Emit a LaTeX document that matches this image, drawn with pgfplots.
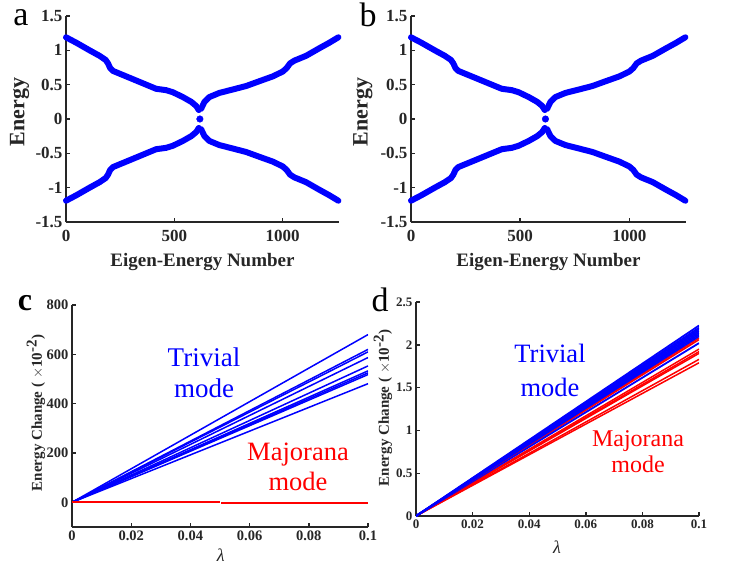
\documentclass[border=0pt]{standalone}
\usepackage{pgfplots}
\pgfplotsset{compat=1.18}
\usepackage{fontspec}
\setmainfont{Liberation Serif}
\definecolor{axgray}{RGB}{38,38,38}
\pgfplotsset{
  mystyle/.style={
    scale only axis,
    anchor=south west,
    axis x line*=bottom, axis y line*=left,
    axis line style={line width=2.2pt, color=axgray},
    tick align=inside,
    major tick style={line width=1.4pt, color=axgray},
    major tick length=4pt,
    ticklabel style={color=axgray},
    label style={color=axgray},
  },
  bandstyle/.style={
    mystyle, clip=false,
    xmin=0, xmax=1260, ymin=-1.5, ymax=1.5,
    xtick={0,500,1000}, xticklabels={0,500,1000},
    ytick={-1.5,-1,-0.5,0,0.5,1,1.5},
    yticklabels={-1.5,-1,-0.5,0,0.5,1,1.5},
    ticklabel style={font=\bfseries\fontsize{17}{17}\selectfont},
    xticklabel style={yshift=-5pt},
    xlabel={Eigen-Energy Number},
    ylabel={Energy},
    xlabel style={font=\bfseries\fontsize{19}{20}\selectfont},
    ylabel style={font=\bfseries\fontsize{22}{22}\selectfont},
    xlabel style={at={(axis description cs:0.5,-0.194)}, anchor=center},
    ylabel style={at={(axis description cs:-0.17,0.534)}, anchor=center},
  },
  lamstyle/.style={
    mystyle,
    xmin=0, xmax=0.1,
    xtick={0,0.02,0.04,0.06,0.08,0.1},
    xticklabels={0,0.02,0.04,0.06,0.08,0.1},
    xlabel={\itshape λ},
    ylabel={Energy Change ( $\times$10$^{\textbf{-2}}$)},
    xlabel style={font=\fontsize{18}{18}\selectfont},
    ylabel style={font=\bfseries\fontsize{15}{16}\selectfont},
  },
}
\pgfplotstableread{
n E
0 1.19
48 1.11
109 1.00
155 0.92
183 0.86
194 0.81
204 0.74
217 0.70
263 0.64
309 0.58
370 0.50
416 0.44
462 0.42
493 0.39
539 0.32
578 0.25
601 0.19
613 0.13
}\upleft
\pgfplotstableread{
n E
624 0.15
639 0.25
662 0.32
708 0.38
770 0.43
831 0.48
892 0.55
954 0.62
1000 0.69
1018 0.74
1034 0.81
1054 0.85
1108 0.92
1169 1.03
1215 1.11
1257 1.19
}\upright
\pgfplotstableread{
n E
0 -1.19
48 -1.11
109 -1.00
155 -0.92
183 -0.86
194 -0.81
204 -0.74
217 -0.70
263 -0.64
309 -0.58
370 -0.50
416 -0.44
462 -0.42
493 -0.39
539 -0.32
578 -0.25
601 -0.19
613 -0.13
}\lowleft
\pgfplotstableread{
n E
624 -0.15
639 -0.25
662 -0.32
708 -0.38
770 -0.43
831 -0.48
892 -0.55
954 -0.62
1000 -0.69
1018 -0.74
1034 -0.81
1054 -0.85
1108 -0.92
1169 -1.03
1215 -1.11
1257 -1.19
}\lowright
\begin{document}
\begin{tikzpicture}
\useasboundingbox (0pt,0pt) rectangle (730pt,566pt);
% ---------- a ----------
\begin{axis}[bandstyle, at={(66pt,344pt)}, width=273pt, height=206pt]
\addplot[blue, line width=6pt, line cap=round, line join=round] table[x=n,y=E] {\upleft};
\addplot[blue, line width=6pt, line cap=round, line join=round] table[x=n,y=E] {\upright};
\addplot[blue, line width=6pt, line cap=round, line join=round] table[x=n,y=E] {\lowleft};
\addplot[blue, line width=6pt, line cap=round, line join=round] table[x=n,y=E] {\lowright};
\addplot[blue, only marks, mark=*, mark size=3.3pt] coordinates {(618,0)};
\end{axis}
% ---------- b ----------
\begin{axis}[bandstyle, at={(411pt,344pt)}, width=275pt, height=206pt,
  ylabel style={at={(axis description cs:-0.175,0.534)}}]
\addplot[blue, line width=6pt, line cap=round, line join=round] table[x=n,y=E] {\upleft};
\addplot[blue, line width=6pt, line cap=round, line join=round] table[x=n,y=E] {\upright};
\addplot[blue, line width=6pt, line cap=round, line join=round] table[x=n,y=E] {\lowleft};
\addplot[blue, line width=6pt, line cap=round, line join=round] table[x=n,y=E] {\lowright};
\addplot[blue, only marks, mark=*, mark size=3.3pt] coordinates {(616,0)};
\end{axis}
% ---------- c ----------
\begin{axis}[lamstyle, at={(72pt,39pt)}, width=296pt, height=222pt,
  ymin=-100, ymax=800, ytick={0,200,400,600,800},
  yticklabels={0,200,400,600,800},
  ticklabel style={font=\bfseries\fontsize{14.5}{15}\selectfont},
  xlabel style={at={(axis description cs:0.503,-0.128)}, anchor=center},
  ylabel style={at={(axis description cs:-0.122,0.514)}, anchor=center}]
\addplot[blue, line width=1.5pt] coordinates {(0,0) (0.1,680)};
\addplot[blue, line width=1.5pt] coordinates {(0,0) (0.1,620)};
\addplot[blue, line width=1.5pt] coordinates {(0,0) (0.1,610)};
\addplot[blue, line width=1.5pt] coordinates {(0,0) (0.1,587)};
\addplot[blue, line width=1.5pt] coordinates {(0,0) (0.1,553)};
\addplot[blue, line width=1.5pt] coordinates {(0,0) (0.1,533)};
\addplot[blue, line width=1.5pt] coordinates {(0,0) (0.1,525)};
\addplot[blue, line width=1.5pt] coordinates {(0,0) (0.1,518)};
\addplot[blue, line width=1.5pt] coordinates {(0,0) (0.1,481)};
\addplot[red, line width=2pt] coordinates {(0,0) (0.05,0)};
\addplot[red, line width=1.6pt] coordinates {(0.0505,-2) (0.1,-2)};
\end{axis}
% ---------- d ----------
\begin{axis}[lamstyle, at={(416pt,50pt)}, width=283pt, height=214pt,
  ymin=0, ymax=2.5, ytick={0,0.5,1,1.5,2,2.5},
  yticklabels={0,0.5,1,1.5,2,2.5},
  ticklabel style={font=\bfseries\fontsize{13}{14}\selectfont},
  xlabel style={at={(axis description cs:0.498,-0.145)}, anchor=center},
  ylabel style={at={(axis description cs:-0.117,0.505)}, anchor=center}]
\addplot[red, line width=1.5pt] coordinates {(0,0) (0.1,1.79)};
\addplot[red, line width=1.5pt] coordinates {(0,0) (0.1,1.83)};
\addplot[red, line width=1.5pt] coordinates {(0,0) (0.1,1.90)};
\addplot[red, line width=1.5pt] coordinates {(0,0) (0.1,1.92)};
\addplot[red, line width=1.5pt] coordinates {(0,0) (0.1,1.95)};
\addplot[red, line width=1.5pt] coordinates {(0,0) (0.1,2.06)};
\addplot[blue, line width=1.8pt] coordinates {(0,0) (0.1,2.02)};
\addplot[red, line width=1.5pt] coordinates {(0,0) (0.1,2.08)};
\addplot[blue, line width=1.8pt] coordinates {(0,0) (0.1,2.10)};
\addplot[blue, line width=1.8pt] coordinates {(0,0) (0.1,2.12)};
\addplot[blue, line width=1.8pt] coordinates {(0,0) (0.1,2.14)};
\addplot[blue, line width=1.8pt] coordinates {(0,0) (0.1,2.16)};
\addplot[blue, line width=1.8pt] coordinates {(0,0) (0.1,2.18)};
\addplot[blue, line width=1.8pt] coordinates {(0,0) (0.1,2.20)};
\addplot[blue, line width=1.8pt] coordinates {(0,0) (0.1,2.225)};
\end{axis}
% ---------- panel letters ----------
\node[font=\fontsize{34}{34}\selectfont] at (21pt,548pt) {a};
\node[font=\fontsize{34}{34}\selectfont] at (368pt,551pt) {b};
\node[font=\bfseries\fontsize{32}{32}\selectfont] at (25pt,263pt) {c};
\node[font=\fontsize{34}{34}\selectfont] at (380pt,266pt) {d};
% ---------- annotations ----------
\node[blue, align=center, font=\fontsize{27}{31}\selectfont] at (204pt,193pt) {Trivial\\mode};
\node[red, align=center, font=\fontsize{26.5}{30}\selectfont] at (298pt,99pt) {Majorana\\mode};
\node[blue, align=center, font=\fontsize{26.5}{34}\selectfont] at (550pt,196pt) {Trivial\\mode};
\node[red, align=center, font=\fontsize{24}{26}\selectfont] at (638pt,114pt) {Majorana\\mode};
\end{tikzpicture}
\end{document}
